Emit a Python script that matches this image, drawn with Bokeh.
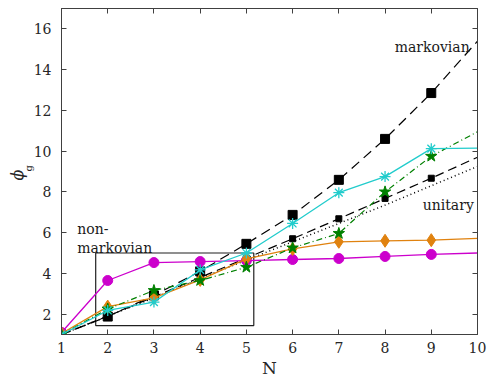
from bokeh.plotting import figure
from bokeh.models import Range1d, LinearAxis, FixedTicker, Title
from bokeh.embed import file_html
from bokeh.resources import INLINE
from bokeh.core.properties import value

# ---- data ----
N = [1, 2, 3, 4, 5, 6, 7, 8, 9, 10]
N_pts = [1, 2, 3, 4, 5, 6, 7, 8, 9]

markov_line = [1.0, 1.88, 2.92, 4.1, 5.45, 6.87, 8.59, 10.6, 12.85, 15.4]
markov_pts = [1.0, 1.88, 2.92, 4.1, 5.45, 6.87, 8.59, 10.6, 12.85]

unit_dash_line = [1.0, 1.9, 2.85, 3.8, 4.75, 5.7, 6.68, 7.68, 8.67, 9.7]
unit_dash_pts = [1.0, 1.9, 2.85, 3.8, 4.75, 5.7, 6.68, 7.68, 8.67]

unitary_dotted = [1.0, 1.9, 2.8, 3.75, 4.65, 5.55, 6.45, 7.35, 8.3, 9.25]

magenta_line = [1.1, 3.65, 4.53, 4.58, 4.63, 4.68, 4.73, 4.83, 4.93, 5.0]
orange_line = [1.05, 2.37, 2.8, 3.68, 4.71, 5.2, 5.55, 5.6, 5.63, 5.72]
cyan_line = [1.0, 2.18, 2.59, 4.17, 5.0, 6.45, 7.96, 8.75, 10.12, 10.15]
green_line = [1.0, 2.25, 3.16, 3.65, 4.3, 5.25, 5.96, 8.0, 9.75, 10.95]

x_ticks = [1, 2, 3, 4, 5, 6, 7, 8, 9, 10]
y_ticks = [2, 4, 6, 8, 10, 12, 14, 16]

FONT = "DejaVu Serif"
MAGENTA = "#CC00CC"
ORANGE = "#E0820F"
CYAN = "#22CCCC"
GREEN = "#008000"
AXC = "#404040"
TXT = "#262626"

p = figure(width=492, height=380, output_backend="svg", toolbar_location=None,
           x_range=Range1d(1, 10), y_range=Range1d(1, 17),
           min_border_left=61, min_border_right=15, min_border_top=8, min_border_bottom=10)
p.grid.visible = False
p.outline_line_color = AXC
p.outline_line_width = 1
p.background_fill_color = "white"
p.border_fill_color = "white"

def style_axis(ax, labels=True):
    ax.axis_line_color = AXC
    ax.major_tick_line_color = AXC
    ax.major_tick_in = 5
    ax.major_tick_out = 0
    ax.minor_tick_line_color = None
    ax.major_label_text_font = FONT
    ax.major_label_text_font_size = "14px" if labels else "0px"
    ax.major_label_text_color = TXT
    if not labels:
        ax.major_label_standoff = 0
        ax.major_label_text_color = None

p.xaxis.ticker = FixedTicker(ticks=x_ticks)
p.yaxis.ticker = FixedTicker(ticks=y_ticks)
style_axis(p.xaxis[0])
style_axis(p.yaxis[0])
p.xaxis.major_label_standoff = 7
p.yaxis.major_label_standoff = 10
p.xaxis.axis_label = "N"
p.xaxis.axis_label_text_font = FONT
p.xaxis.axis_label_text_font_style = "normal"
p.xaxis.axis_label_text_font_size = "17px"
p.xaxis.axis_label_text_color = TXT
p.xaxis.axis_label_standoff = 2

top_ax = LinearAxis(ticker=FixedTicker(ticks=x_ticks))
style_axis(top_ax, labels=False)
right_ax = LinearAxis(ticker=FixedTicker(ticks=y_ticks))
style_axis(right_ax, labels=False)
p.add_layout(top_ax, "above")
p.add_layout(right_ax, "right")

# y label phi_g as side titles
p.add_layout(Title(text="g", text_font=FONT, text_font_size="10px", text_font_style="normal",
                   text_color=TXT, align="left", offset=163, standoff=-6,
                   vertical_align="bottom"), "left")
p.add_layout(Title(text="ϕ", text_font=FONT, text_font_size="16px", text_font_style="italic",
                   text_color=TXT, align="left", offset=154, standoff=-6,
                   vertical_align="bottom"), "left")

# inset rectangle
p.quad(left=[1.74], right=[5.16], bottom=[1.44], top=[5.0],
       fill_color=None, line_color="#202020", line_width=1.2)

# unitary dotted
p.line(N, unitary_dotted, line_color="black", line_width=1.5, line_dash="1 3")
# unitary dashed + small squares
p.line(N, unit_dash_line, line_color="black", line_width=1.2, line_dash="9 5")
p.scatter(N_pts, unit_dash_pts, marker="square", size=6, fill_color="black", line_color="black")
# markovian dashed + big squares
p.line(N, markov_line, line_color="black", line_width=1.2, line_dash="10 6")
p.scatter(N_pts, markov_pts, marker="square", size=9, fill_color="black", line_color="black")

# magenta circles
p.line(N, magenta_line, line_color=MAGENTA, line_width=1.3)
p.scatter(N_pts, magenta_line[:9], marker="circle", size=10, fill_color=MAGENTA, line_color=MAGENTA)
# orange diamonds
p.line(N, orange_line, line_color=ORANGE, line_width=1.3)
p.scatter(N_pts, orange_line[:9], marker="diamond", size=13, fill_color=ORANGE, line_color=ORANGE)
# green stars dash-dot
p.line(N, green_line, line_color=GREEN, line_width=1.2, line_dash="6 3 1 3")
p.scatter(N_pts, green_line[:9], marker="star", size=12, fill_color=GREEN, line_color=GREEN)
# cyan asterisks
p.line(N, cyan_line, line_color=CYAN, line_width=1.3)
p.scatter(N_pts, cyan_line[:9], marker="asterisk", size=11, line_color=CYAN, line_width=1.3)

# annotations
p.text(x=[9.83, 9.92], y=[15.1, 7.38], text=["markovian", "unitary"], text_font=value(FONT),
       text_font_size="14px", text_align="right", text_baseline="alphabetic", text_color="#1a1a1a")
p.text(x=[1.34, 1.34], y=[6.19, 5.24], text=["non-", "markovian"], text_font=value(FONT),
       text_font_size="14px", text_align="left", text_baseline="alphabetic", text_color="#1a1a1a")

open("out.html", "w").write(file_html(p, INLINE))
